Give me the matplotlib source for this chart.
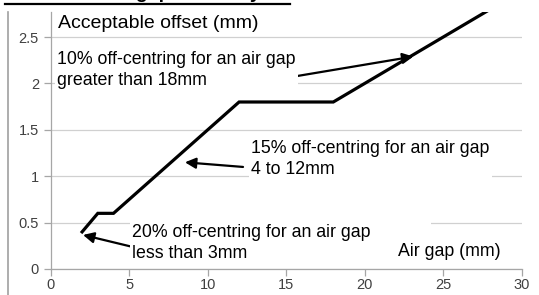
import matplotlib
matplotlib.use('Agg')
import matplotlib.pyplot as plt
from matplotlib.lines import Line2D

# air gap (mm) vs acceptable offset (mm)
air_gap = [2, 3, 4, 12, 18, 28]
offset = [0.4, 0.6, 0.6, 1.8, 1.8, 2.8]
x_ticks = [0, 5, 10, 15, 20, 25, 30]
y_ticks = [0, 0.5, 1, 1.5, 2, 2.5]

plt.rcParams['font.family'] = ['Liberation Sans', 'DejaVu Sans']

W, H = 539, 295
fig = plt.figure(figsize=(W / 100, H / 100), dpi=100)
ax = fig.add_axes([50.7 / W, 26 / H, 471 / W, 257 / H])

ax.plot(air_gap, offset, color='black', lw=2.3, solid_joinstyle='miter', zorder=3)

ax.set_xlim(0, 30)
ax.set_ylim(0, 2.77)
ax.set_xticks(x_ticks)
ax.set_yticks(y_ticks)
ax.set_yticklabels(['0', '0.5', '1', '1.5', '2', '2.5'])
ax.grid(axis='y', color='#d0d0d0', lw=0.9, zorder=0)
ax.set_axisbelow(True)
for s in ['top', 'right']:
    ax.spines[s].set_visible(False)
for s in ['left', 'bottom']:
    ax.spines[s].set_color('#a6a6a6')
    ax.spines[s].set_linewidth(0.9)
ax.tick_params(colors='#a6a6a6', labelcolor='#404040', labelsize=10.5, length=5, width=0.9)
ax.tick_params(axis='x', pad=1.5)

def fp(px, py):
    return (px / W, 1 - py / H)

box = dict(facecolor='white', edgecolor='none', pad=1.5)
fs = 12.8

fig.text(*fp(58, 24), 'Acceptable offset (mm)', fontsize=14, va='center', ha='left')
fig.text(*fp(57, 70), '10% off-centring for an air gap\ngreater than 18mm', fontsize=fs,
         va='center', ha='left', linespacing=1.35, bbox=box, zorder=2)
fig.text(*fp(251, 159), '15% off-centring for an air gap\n4 to 12mm', fontsize=fs,
         va='center', ha='left', linespacing=1.3, bbox=box, zorder=2)
fig.text(*fp(132, 243), '20% off-centring for an air gap            \nless than 3mm', fontsize=fs,
         va='center', ha='left', linespacing=1.3, bbox=box, zorder=2)
fig.text(*fp(398, 252), 'Air gap (mm)', fontsize=fs, va='center', ha='left', bbox=box, zorder=2)

arrow = dict(arrowstyle='-|>', color='black', lw=1.6, mutation_scale=16, shrinkA=0, shrinkB=0)
ax.annotate('', xy=(23.1, 2.29), xytext=(15.7, 2.08), arrowprops=arrow, zorder=4)
ax.annotate('', xy=(8.55, 1.15), xytext=(12.25, 1.10), arrowprops=arrow, zorder=4)
ax.annotate('', xy=(2.06, 0.367), xytext=(5.24, 0.237), arrowprops=arrow, zorder=4)

# clipped heading at the top of the page and page edge on the left
fig.text(5 / W, 1 + 2 / H, 'Main word air gap accuracy:', fontsize=14, fontweight='bold',
         va='baseline', ha='left')
fig.add_artist(Line2D([5 / W, 290 / W], [1 - 4 / H, 1 - 4 / H], color='black', lw=1.6))
fig.add_artist(Line2D([8 / W, 8 / W], [0, 1 - 12 / H], color='#a0a0a0', lw=1.2))

fig.savefig('out.png', dpi=100)
